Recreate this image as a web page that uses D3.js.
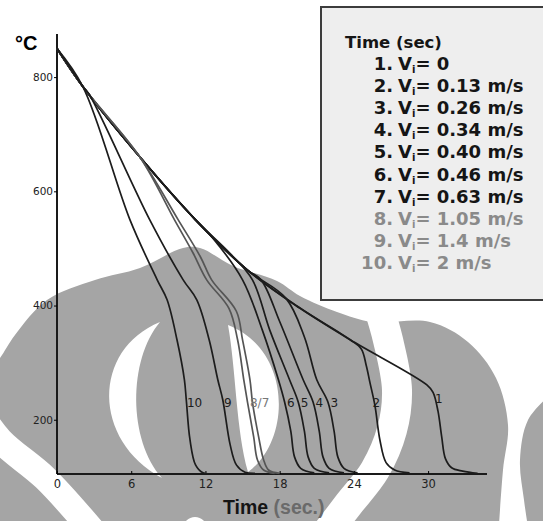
<!DOCTYPE html>
<html>
<head>
<meta charset="utf-8">
<script src="https://cdn.jsdelivr.net/npm/d3@7"></script>
<style>
  body { margin: 0; background: #fff; }
  svg { display: block; }
</style>
</head>
<body>
<svg id="chart"></svg>
<script>
const width = 543, height = 521;

// cooling curves, [time (s), temperature (°C)]
const curve1 = [[0, 850], [2.1, 783], [6.7, 660], [11.2, 550], [15.4, 462], [19.6, 396], [23.7, 340], [29.9, 261], [30.4, 248], [30.8, 215], [31.1, 170], [31.4, 132], [31.9, 116], [32.8, 110], [34.0, 106]];
const curve2 = [[0, 850], [2.1, 783], [6.7, 660], [11.2, 550], [15.4, 462], [19.6, 396], [23.7, 340], [24.6, 324], [25.0, 295], [25.3, 265], [25.7, 225], [26.1, 165], [26.6, 125], [27.3, 112], [28.5, 107]];
const curve3 = [[0, 850], [2.1, 783], [6.7, 660], [11.2, 550], [15.4, 462], [18.5, 413], [20.0, 345], [21.0, 270], [21.9, 231], [22.4, 180], [22.7, 135], [23.2, 115], [24.3, 107]];
const curve4 = [[0, 850], [2.1, 783], [6.7, 660], [11.2, 550], [15.4, 462], [16.5, 445], [18.0, 372], [19.9, 270], [20.7, 231], [21.2, 180], [21.5, 135], [22.0, 115], [23.2, 107]];
const curve5 = [[0, 850], [2.1, 783], [6.7, 660], [11.2, 550], [14.0, 491], [15.8, 445], [17.2, 357], [18.8, 270], [19.5, 231], [20.0, 180], [20.3, 135], [20.8, 115], [22.0, 107]];
const curve6 = [[0, 850], [2.1, 783], [6.7, 660], [11.2, 550], [12.6, 518], [15.0, 445], [16.6, 357], [17.9, 270], [18.4, 231], [18.9, 180], [19.2, 135], [19.7, 115], [20.8, 107]];
const curve7 = [[0, 850], [2.1, 783], [6.7, 660], [9.8, 550], [11.6, 485], [12.5, 445], [14.5, 390], [15.0, 340], [15.6, 270], [15.8, 231], [16.3, 170], [16.7, 130], [17.1, 112], [18.0, 106]];
const curve8 = [[0, 850], [2.1, 783], [6.7, 660], [9.5, 550], [11.0, 492], [12.1, 445], [13.9, 395], [14.6, 340], [15.1, 270], [15.4, 231], [15.9, 170], [16.2, 130], [16.7, 112], [17.6, 106]];
const curve9 = [[0, 850], [2.1, 783], [2.6, 770], [7.5, 550], [10.2, 445], [11.3, 410], [12.3, 340], [13.0, 270], [13.4, 235], [14.0, 156], [14.5, 121], [15.2, 108], [16.0, 106]];
const curve10 = [[0, 850], [2.1, 783], [5.9, 550], [8.1, 445], [8.9, 410], [9.7, 340], [10.3, 270], [10.45, 235], [10.75, 165], [11.2, 121], [11.8, 107], [12.4, 105]];
const curves = [curve1, curve2, curve3, curve4, curve5, curve6, curve7, curve8, curve9, curve10];

// numbers written next to the curves
const curveLabels = ["1", "2", "3", "4", "5", "6", "8/7", "9", "10"];
const labelTimes = [30.55, 25.5, 22.1, 20.9, 19.7, 18.6, 15.6, 13.5, 10.5];
const labelTemps = [229, 222, 222, 222, 222, 222, 222, 222, 222];

// legend
const legendTitle = "Time (sec)";
const legendNums = ["1.", "2.", "3.", "4.", "5.", "6.", "7.", "8.", "9.", "10."];
const legendValues = ["0", "0.13 m/s", "0.26 m/s", "0.34 m/s", "0.40 m/s", "0.46 m/s", "0.63 m/s", "1.05 m/s", "1.4 m/s", "2 m/s"];

const xTicks = [0, 6, 12, 18, 24, 30];
const yTicks = [200, 400, 600, 800];

const svg = d3.select("#chart")
    .attr("width", width)
    .attr("height", height)
    .style("font-family", "'DejaVu Sans', sans-serif");

const x = d3.scaleLinear().domain([0, 34.6]).range([57, 485]);
const y = d3.scaleLinear().domain([105, 872]).range([474, 36]);

// --- background watermark (scanned logo) ---
const wm = svg.append("g");
const grey = "#a5a5a5";
const smooth = d3.line().curve(d3.curveCatmullRom);

const domeTop = [[-10, 370], [0, 358], [15, 335], [47, 300], [95, 280], [140, 268], [183, 248], [200, 248], [233, 266], [277, 281], [300, 296], [337, 312], [372, 322], [430, 322], [468, 342], [496, 378], [508, 425], [503, 470], [498, 540]];
wm.append("path").attr("fill", grey)
    .attr("d", smooth(domeTop) + "L-10,540Z");
wm.append("path").attr("fill", grey)
    .attr("d", smooth([[550, 395], [528, 420], [520, 460], [524, 500], [530, 540]]) + "L550,540Z");

wm.append("path").attr("fill", "none").attr("stroke", "#fff").attr("stroke-width", 26)
    .attr("d", smooth([[-25, 405], [0, 440], [45, 478], [92, 530]]));
wm.append("path").attr("fill", "none").attr("stroke", "#fff").attr("stroke-width", 30)
    .attr("d", smooth([[378, 305], [388, 340], [397, 390], [392, 430], [375, 470], [348, 505], [325, 535]]));
wm.append("path").attr("fill", "#fff")
    .attr("d", "M160,322C92,350 92,440 162,478C128,440 128,360 160,322Z");
wm.append("path").attr("fill", "#fff")
    .attr("d", "M228,325C292,350 292,440 248,472C236,430 236,370 228,325Z");
wm.append("circle").attr("cx", 195).attr("cy", 529).attr("r", 12).attr("fill", "#fff");

// --- legend box ---
svg.append("rect")
    .attr("x", 321).attr("y", 7).attr("width", 240).attr("height", 293)
    .attr("fill", "#eeeeee").attr("stroke", "#3c3c3c").attr("stroke-width", 2);

svg.append("text")
    .attr("x", 345).attr("y", 48)
    .attr("font-size", 16.5).attr("font-weight", "bold").attr("fill", "#151515")
    .text(legendTitle);

const legendRows = svg.append("g").selectAll("g")
    .data(legendValues)
    .join("g")
    .attr("transform", (d, i) => `translate(0,${69.5 + i * 22.2})`)
    .attr("fill", (d, i) => i < 7 ? "#151515" : "#8a8a8a")
    .attr("font-weight", "bold")
    .attr("font-size", 18);

legendRows.append("text")
    .attr("x", 393).attr("text-anchor", "end")
    .text((d, i) => legendNums[i]);

const vText = legendRows.append("text").attr("x", 398);
vText.append("tspan").text("V");
vText.append("tspan").attr("font-size", 10).attr("dy", 3).text("i");
vText.append("tspan").attr("dy", -3).text(d => "= " + d);

// --- axes ---
const axes = svg.append("g").attr("stroke", "#1a1a1a").attr("stroke-width", 2);
axes.append("line").attr("x1", x(0)).attr("x2", x(0)).attr("y1", 34).attr("y2", y(105));
axes.append("line").attr("x1", x(0)).attr("x2", 487).attr("y1", y(105)).attr("y2", y(105));

const yAxis = svg.append("g")
    .attr("transform", `translate(${x(0)},0)`)
    .call(d3.axisLeft(y).tickValues(yTicks).tickSize(3).tickPadding(1));
yAxis.select(".domain").remove();
yAxis.selectAll("text").attr("font-size", 10.5).attr("font-family", "'DejaVu Sans', sans-serif").attr("fill", "#222");

const xAxis = svg.append("g")
    .attr("transform", `translate(0,${y(105)})`)
    .call(d3.axisBottom(x).tickValues(xTicks).tickSize(-3).tickPadding(6));
xAxis.select(".domain").remove();
xAxis.selectAll("text").attr("font-size", 11.5).attr("font-family", "'DejaVu Sans', sans-serif").attr("fill", "#222");

svg.append("text")
    .attr("x", 15).attr("y", 50)
    .attr("font-family", "'Liberation Sans', Arial, sans-serif")
    .attr("font-size", 20).attr("font-weight", "bold")
    .text("°C");

const xTitle = svg.append("text")
    .attr("x", 223).attr("y", 514)
    .attr("font-family", "'Liberation Sans', Arial, sans-serif")
    .attr("font-size", 19.5).attr("font-weight", "bold").attr("fill", "#151515");
xTitle.append("tspan").text("Time ");
xTitle.append("tspan").attr("fill", "#6a6a6a").text("(sec.)");

// --- cooling curves ---
const line = d3.line()
    .x(d => x(d[0]))
    .y(d => y(d[1]))
    .curve(d3.curveCatmullRom.alpha(0.5));

svg.append("g").selectAll("path")
    .data(curves)
    .join("path")
    .attr("fill", "none")
    .attr("stroke", (d, i) => (i === 6 || i === 7) ? "#555" : "#1c1c1c")
    .attr("stroke-width", 1.7)
    .attr("d", line);

svg.append("g").selectAll("text")
    .data(curveLabels)
    .join("text")
    .attr("x", (d, i) => x(labelTimes[i]))
    .attr("y", (d, i) => y(labelTemps[i]))
    .attr("font-size", 12)
    .attr("fill", d => d === "8/7" ? "#777" : "#1c1c1c")
    .text(d => d);
</script>
</body>
</html>
